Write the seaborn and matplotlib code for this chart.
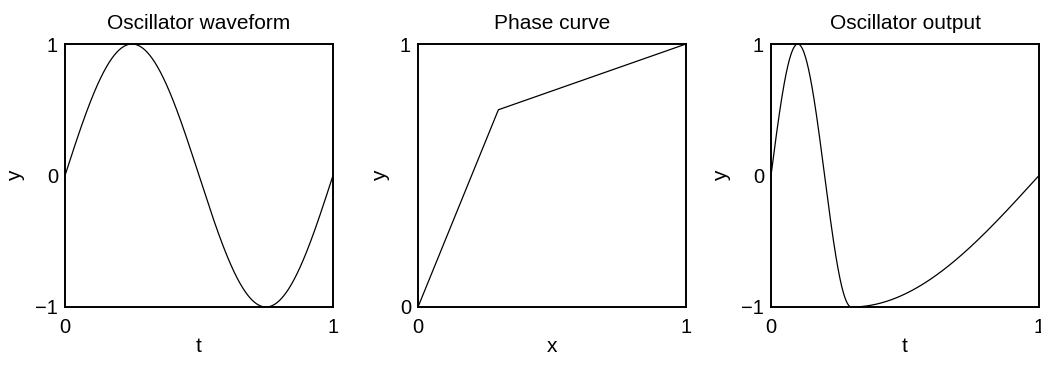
import numpy as np
import pandas as pd
import matplotlib
matplotlib.use("Agg")
import matplotlib.pyplot as plt
import seaborn as sns

# Piecewise-linear phase distortion curve (breakpoints)
phase_x = [0.0, 0.3, 1.0]
phase_y = [0.0, 0.75, 1.0]

titles = ["Oscillator waveform", "Phase curve", "Oscillator output"]
xlabels = ["t", "x", "t"]
ylabels = ["y", "y", "y"]
yticks = [[-1, 0, 1], [0, 1], [-1, 0, 1]]
ylims = [(-1, 1), (0, 1), (-1, 1)]

# One period of the sine oscillator, and the same sine read through the phase curve
t = np.linspace(0.0, 1.0, 1001)
wave = pd.DataFrame({"t": t, "y": np.sin(2 * np.pi * t)})
phase = pd.DataFrame({"x": phase_x, "y": phase_y})
warped = np.interp(t, phase_x, phase_y)
output = pd.DataFrame({"t": t, "y": np.sin(2 * np.pi * warped)})

sns.set_theme(style="white")
plt.rcParams["font.family"] = ["Liberation Sans", "DejaVu Sans"]
plt.rcParams["axes.unicode_minus"] = True

fig = plt.figure(figsize=(10.41, 3.65), dpi=100)
lefts = [65 / 1041, 418 / 1041, 771 / 1041]
bottom = (365 - 307) / 365
width = 268 / 1041
height = 263 / 365
axes = [fig.add_axes([l, bottom, width, height]) for l in lefts]

sources = [(wave, "t", "y"), (phase, "x", "y"), (output, "t", "y")]
for ax, (df, xc, yc), title, xl, yl, yt, yl_lim in zip(
        axes, sources, titles, xlabels, ylabels, yticks, ylims):
    sns.lineplot(data=df, x=xc, y=yc, ax=ax, color="black", linewidth=0.9,
                 estimator=None, sort=False)
    ax.set_xlim(0, 1)
    ax.set_ylim(*yl_lim)
    ax.set_xticks([0, 1])
    ax.set_xticklabels(["0", "1"])
    ax.set_yticks(yt)
    ax.set_yticklabels(["\u22121" if v == -1 else str(v) for v in yt])
    ax.tick_params(axis="both", length=0, labelsize=14.5, colors="black")
    ax.tick_params(axis="x", pad=8)
    ax.tick_params(axis="y", pad=5)
    ax.set_title(title, fontsize=15, color="black", pad=11)
    ax.set_xlabel(xl, fontsize=15, color="black", labelpad=0)
    ax.set_ylabel(yl, fontsize=15, color="black", labelpad=7)
    for s in ax.spines.values():
        s.set_visible(True)
        s.set_color("black")
        s.set_linewidth(1.4)

fig.savefig("out.png", dpi=100, facecolor="white")
